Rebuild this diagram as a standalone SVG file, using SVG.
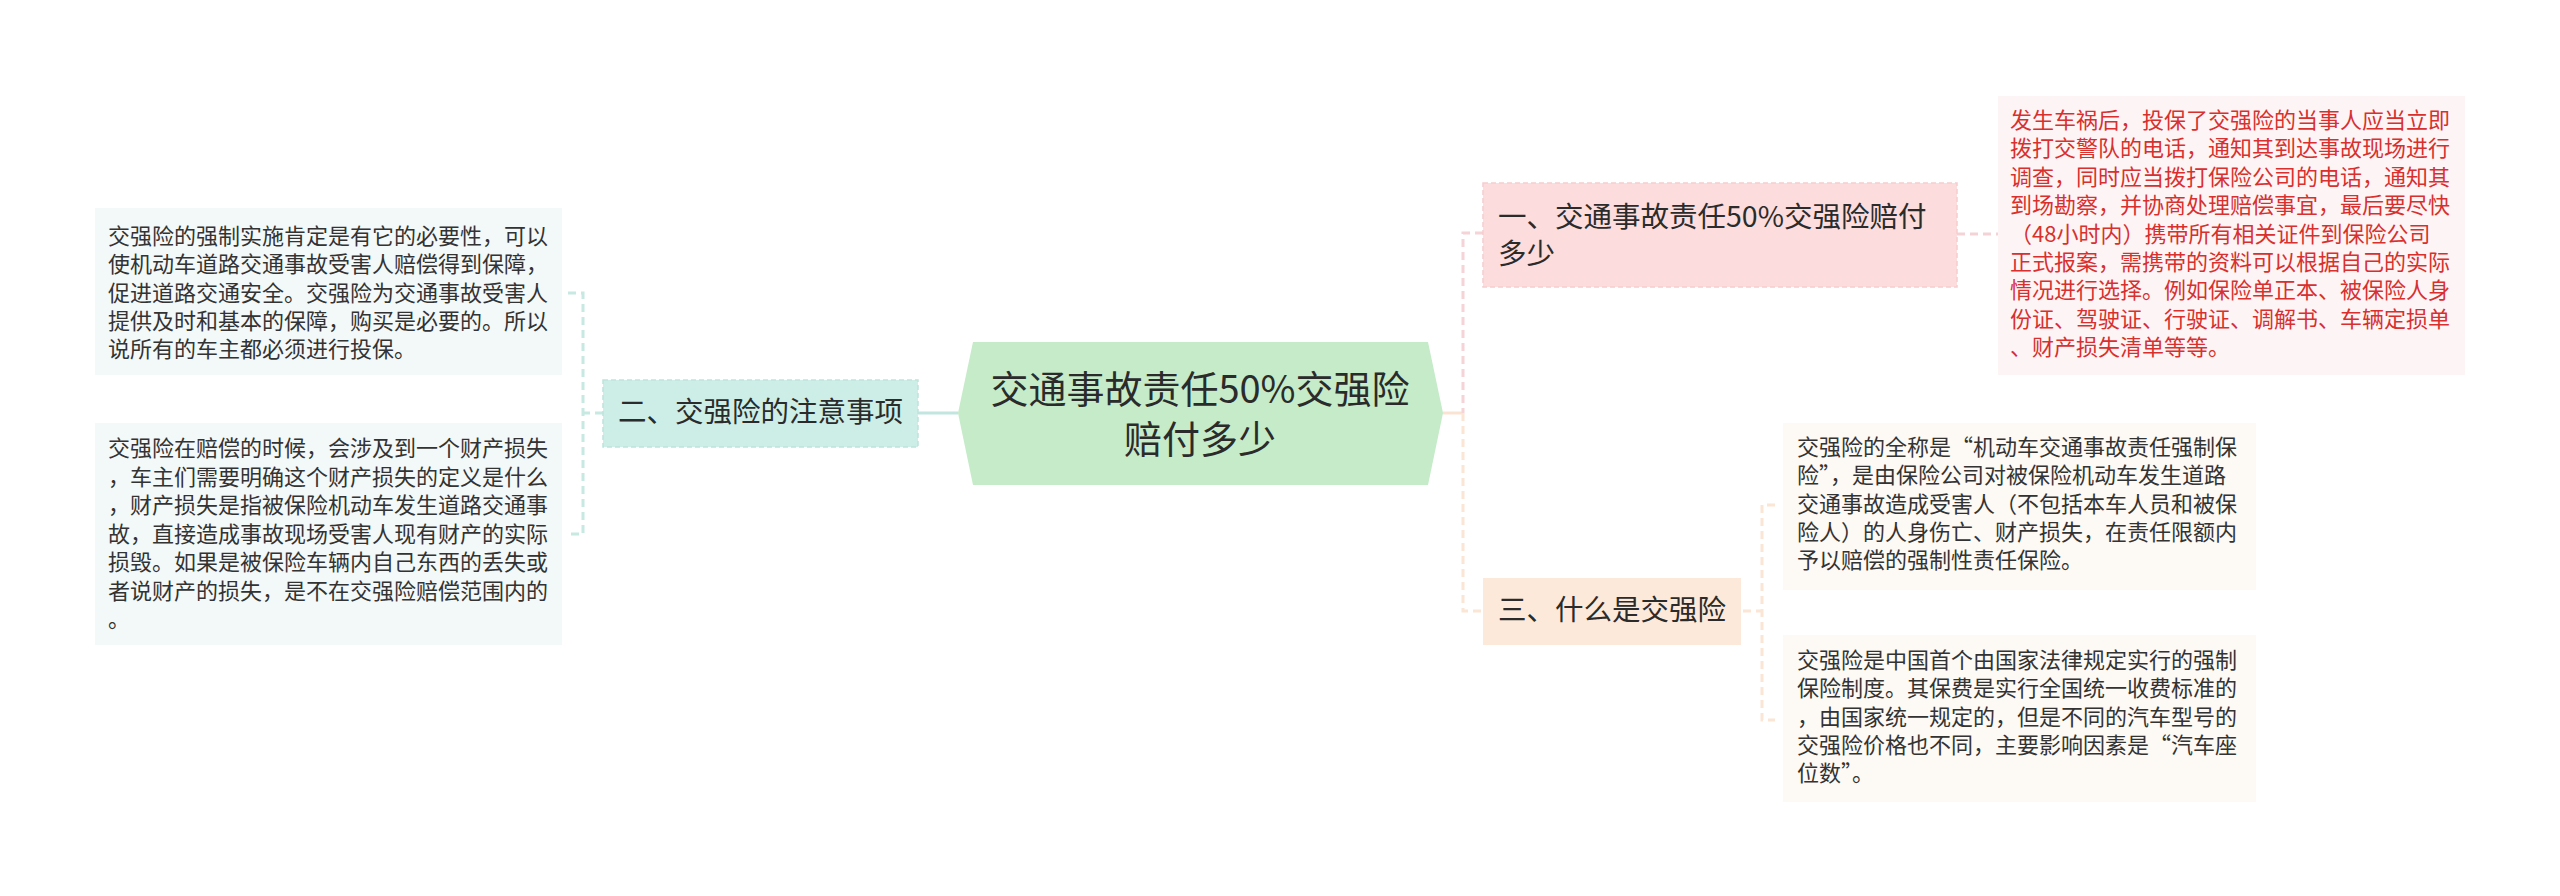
<svg xmlns="http://www.w3.org/2000/svg" width="2560" height="896" viewBox="0 0 2560 896">
<style>
text{font-family:"Noto Sans CJK SC","Noto Sans",sans-serif;}
.leaf{font-size:22px;fill:#333333;}
.red{font-size:22px;fill:#d8302f;}
.br{font-size:28.5px;fill:#2b2b2b;}
.c{stroke-width:3;fill:none;}
.d{stroke-dasharray:8 5;}
</style>
<rect width="2560" height="896" fill="#ffffff"/>
<g id="connectors">
  <line x1="918" y1="413" x2="958" y2="413" class="c" stroke="#c2e6df"/>
  <path d="M603 413 H583 M568 293 H583 V534 H568" class="c d" stroke="#c8e8e2"/>
  <line x1="1443" y1="413" x2="1463" y2="413" class="c" stroke="#fbe3d2"/>
  <path d="M1483 233 H1463 V413" class="c d" stroke="#f5d3d6"/>
  <path d="M1463 413 V611 H1483" class="c d" stroke="#fbe6d6"/>
  <line x1="1957" y1="234" x2="1998" y2="234" class="c d" stroke="#f3d3d6"/>
  <path d="M1743 611 H1762 M1775 505 H1762 V720 H1775" class="c d" stroke="#fbe6d6"/>
</g>
<g id="center">
  <polygon points="973,342 1428,342 1443,413 1428,485 973,485 958,413" fill="#c5ebc9"/>
  <text x="1200" y="403" font-size="38" fill="#2b2b2b" text-anchor="middle">交通事故责任50%交强险</text>
  <text x="1200" y="453" font-size="38" fill="#2b2b2b" text-anchor="middle">赔付多少</text>
</g>
<g id="branch1">
  <rect x="1483" y="183" width="474" height="104" fill="#fcdcdc" stroke="#f6cdd0" stroke-width="1.5" stroke-dasharray="5 3"/>
  <text class="br" x="1498" y="227" font-size="28">一、交通事故责任50%交强险赔付</text>
  <text class="br" x="1498" y="264" font-size="28">多少</text>
</g>
<g id="leaf1">
  <rect x="1998" y="96" width="467" height="279" fill="#fdf5f5"/>
  <text class="red" x="2010" y="128">发生车祸后，投保了交强险的当事人应当立即</text>
  <text class="red" x="2010" y="156.4">拨打交警队的电话，通知其到达事故现场进行</text>
  <text class="red" x="2010" y="184.8">调查，同时应当拨打保险公司的电话，通知其</text>
  <text class="red" x="2010" y="213.2">到场勘察，并协商处理赔偿事宜，最后要尽快</text>
  <text class="red" x="2010" y="241.6">（48小时内）携带所有相关证件到保险公司</text>
  <text class="red" x="2010" y="270">正式报案，需携带的资料可以根据自己的实际</text>
  <text class="red" x="2010" y="298.4">情况进行选择。例如保险单正本、被保险人身</text>
  <text class="red" x="2010" y="326.8">份证、驾驶证、行驶证、调解书、车辆定损单</text>
  <text class="red" x="2010" y="355.2">、财产损失清单等等。</text>
</g>
<g id="branch2">
  <rect x="603" y="380" width="315" height="67" fill="#cdeee7" stroke="#bfe3dc" stroke-width="1.5" stroke-dasharray="5 3"/>
  <text class="br" x="618" y="422">二、交强险的注意事项</text>
</g>
<g id="leaf2a">
  <rect x="95" y="208" width="467" height="167" fill="#f3f9f9"/>
  <text class="leaf" x="108" y="244">交强险的强制实施肯定是有它的必要性，可以</text>
  <text class="leaf" x="108" y="272.3">使机动车道路交通事故受害人赔偿得到保障，</text>
  <text class="leaf" x="108" y="300.6">促进道路交通安全。交强险为交通事故受害人</text>
  <text class="leaf" x="108" y="328.9">提供及时和基本的保障，购买是必要的。所以</text>
  <text class="leaf" x="108" y="357.2">说所有的车主都必须进行投保。</text>
</g>
<g id="leaf2b">
  <rect x="95" y="423" width="467" height="222" fill="#f3f9f9"/>
  <text class="leaf" x="108" y="456">交强险在赔偿的时候，会涉及到一个财产损失</text>
  <text class="leaf" x="108" y="484.5">，车主们需要明确这个财产损失的定义是什么</text>
  <text class="leaf" x="108" y="513">，财产损失是指被保险机动车发生道路交通事</text>
  <text class="leaf" x="108" y="541.5">故，直接造成事故现场受害人现有财产的实际</text>
  <text class="leaf" x="108" y="570">损毁。如果是被保险车辆内自己东西的丢失或</text>
  <text class="leaf" x="108" y="598.5">者说财产的损失，是不在交强险赔偿范围内的</text>
  <text class="leaf" x="108" y="627">。</text>
</g>
<g id="branch3">
  <rect x="1483" y="578" width="258" height="67" fill="#fde9d9"/>
  <text class="br" x="1498" y="620">三、什么是交强险</text>
</g>
<g id="leaf3a">
  <rect x="1783" y="423" width="473" height="167" fill="#fdf9f4"/>
  <text class="leaf" x="1797" y="455">交强险的全称是“机动车交通事故责任强制保</text>
  <text class="leaf" x="1797" y="483.3">险”，是由保险公司对被保险机动车发生道路</text>
  <text class="leaf" x="1797" y="511.6">交通事故造成受害人（不包括本车人员和被保</text>
  <text class="leaf" x="1797" y="539.9">险人）的人身伤亡、财产损失，在责任限额内</text>
  <text class="leaf" x="1797" y="568.2">予以赔偿的强制性责任保险。</text>
</g>
<g id="leaf3b">
  <rect x="1783" y="635" width="473" height="167" fill="#fdf9f4"/>
  <text class="leaf" x="1797" y="668">交强险是中国首个由国家法律规定实行的强制</text>
  <text class="leaf" x="1797" y="696.3">保险制度。其保费是实行全国统一收费标准的</text>
  <text class="leaf" x="1797" y="724.6">，由国家统一规定的，但是不同的汽车型号的</text>
  <text class="leaf" x="1797" y="752.9">交强险价格也不同，主要影响因素是“汽车座</text>
  <text class="leaf" x="1797" y="781.2">位数”。</text>
</g>
</svg>
